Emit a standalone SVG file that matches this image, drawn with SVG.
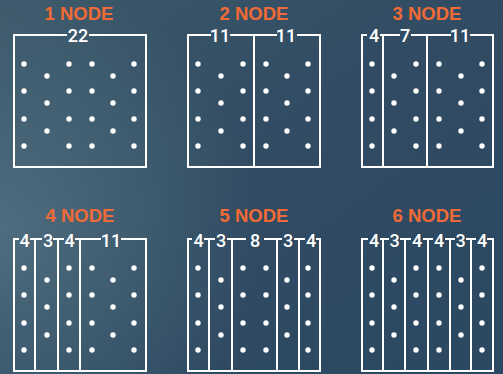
<svg xmlns="http://www.w3.org/2000/svg" xmlns:xlink="http://www.w3.org/1999/xlink" width="503" height="374" viewBox="0 0 503 374">
<defs>
<linearGradient id="bg" x1="0" y1="0" x2="1" y2="1">
<stop offset="0" stop-color="#3c586a"/>
<stop offset="0.5" stop-color="#304b62"/>
<stop offset="1" stop-color="#2c4862"/>
</linearGradient>
<radialGradient id="glow" cx="0" cy="230" r="260" gradientUnits="userSpaceOnUse">
<stop offset="0" stop-color="#557484" stop-opacity="0.8"/>
<stop offset="1" stop-color="#557484" stop-opacity="0"/>
</radialGradient>
<g id="colA"><circle cx="0" cy="29" r="2.7"/><circle cx="0" cy="56" r="2.7"/><circle cx="0" cy="84" r="2.7"/><circle cx="0" cy="111" r="2.7"/></g>
<g id="colB"><circle cx="0" cy="41" r="2.7"/><circle cx="0" cy="68" r="2.7"/><circle cx="0" cy="96" r="2.7"/></g>
</defs>
<style>
.title{font-family:"Liberation Sans",Arial,sans-serif;font-weight:bold;font-size:18.5px;fill:#f26a35;text-anchor:middle}
.lbl{font-family:Roboto,"Liberation Sans",Arial,sans-serif;font-weight:500;font-size:18px;fill:#ffffff;text-anchor:middle}
.ln{stroke:#ffffff;stroke-width:2;fill:none}
.dots{fill:#ffffff}
</style>
<rect width="503" height="374" fill="url(#bg)"/>
<rect width="503" height="374" fill="url(#glow)"/>

<g id="node1">
<text class="title" x="79" y="20">1 NODE</text>
<path class="ln" d="M67 35H14V167H146V35H89"/>
<text class="lbl" x="78" y="42">22</text>
<g class="dots"><use href="#colA" x="24" y="35"/><use href="#colB" x="47" y="35"/><use href="#colA" x="69" y="35"/><use href="#colA" x="92" y="35"/><use href="#colB" x="113" y="35"/><use href="#colA" x="134" y="35"/></g>
</g>

<g id="node2">
<text class="title" x="254" y="20">2 NODE</text>
<path class="ln" d="M211 35H188V167H320V35H297M230 35H277M254 35V167"/>
<text class="lbl" x="220" y="42">11</text>
<text class="lbl" x="286" y="42">11</text>
<g class="dots"><use href="#colA" x="198" y="35"/><use href="#colB" x="221" y="35"/><use href="#colA" x="243" y="35"/><use href="#colA" x="266" y="35"/><use href="#colB" x="287" y="35"/><use href="#colA" x="308" y="35"/></g>
</g>

<g id="node3">
<text class="title" x="427" y="20">3 NODE</text>
<path class="ln" d="M367 35H362V167H493V35H470M380 35H400M411 35H451M383 35V167M427 35V167"/>
<text class="lbl" x="374" y="42">4</text>
<text class="lbl" x="405" y="42">7</text>
<text class="lbl" x="460" y="42">11</text>
<g class="dots"><use href="#colA" x="372" y="35"/><use href="#colB" x="394" y="35"/><use href="#colA" x="416" y="35"/><use href="#colA" x="439" y="35"/><use href="#colB" x="461" y="35"/><use href="#colA" x="482" y="35"/></g>
</g>

<g id="node4">
<text class="title" x="80" y="222">4 NODE</text>
<path class="ln" d="M19 239H14V371H146V239H121M30 239H42M53 239H64M75 239H101M35 239V371M58 239V371M80 239V371"/>
<text class="lbl" x="24.5" y="247">4</text>
<text class="lbl" x="48" y="247">3</text>
<text class="lbl" x="69.5" y="247">4</text>
<text class="lbl" x="111" y="247">11</text>
<g class="dots"><use href="#colA" x="24" y="239"/><use href="#colB" x="47" y="239"/><use href="#colA" x="69" y="239"/><use href="#colA" x="92" y="239"/><use href="#colB" x="113" y="239"/><use href="#colA" x="134" y="239"/></g>
</g>

<g id="node5">
<text class="title" x="254" y="222">5 NODE</text>
<path class="ln" d="M192 239H188V371H320V239H316M204 239H215M227 239H246M264 239H282M294 239H305M209 239V371M232 239V371M277 239V371M299 239V371"/>
<text class="lbl" x="198.5" y="247">4</text>
<text class="lbl" x="221" y="247">3</text>
<text class="lbl" x="255" y="247">8</text>
<text class="lbl" x="288" y="247">3</text>
<text class="lbl" x="311" y="247">4</text>
<g class="dots"><use href="#colA" x="198" y="239"/><use href="#colB" x="221" y="239"/><use href="#colA" x="243" y="239"/><use href="#colA" x="266" y="239"/><use href="#colB" x="287" y="239"/><use href="#colA" x="308" y="239"/></g>
</g>

<g id="node6">
<text class="title" x="427" y="222">6 NODE</text>
<path class="ln" d="M368 239H362V371H493V239H487M380 239H389M400 239H411M423 239H433M445 239H455M466 239H476M383 239V371M405 239V371M428 239V371M450 239V371M471 239V371"/>
<text class="lbl" x="374" y="247">4</text>
<text class="lbl" x="394.5" y="247">3</text>
<text class="lbl" x="417" y="247">4</text>
<text class="lbl" x="439" y="247">4</text>
<text class="lbl" x="460.5" y="247">3</text>
<text class="lbl" x="482" y="247">4</text>
<g class="dots"><use href="#colA" x="372" y="239"/><use href="#colB" x="394" y="239"/><use href="#colA" x="416" y="239"/><use href="#colA" x="439" y="239"/><use href="#colB" x="461" y="239"/><use href="#colA" x="482" y="239"/></g>
</g>
</svg>
